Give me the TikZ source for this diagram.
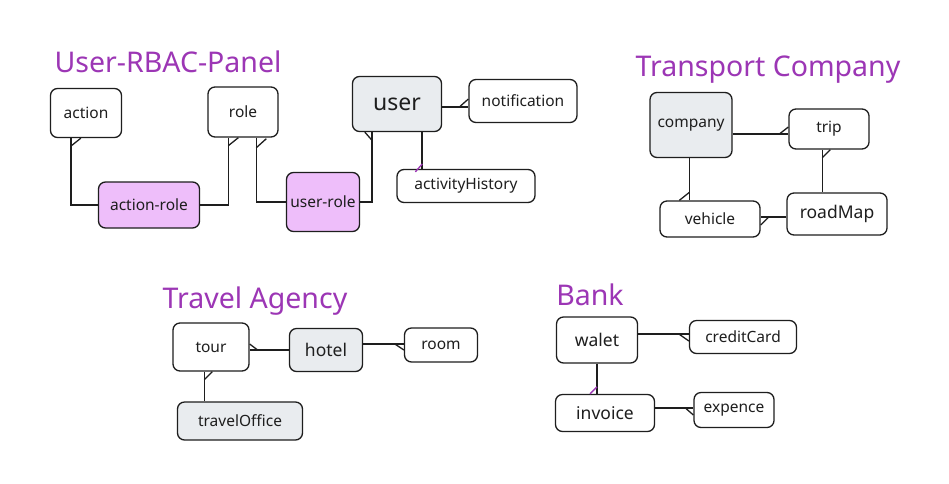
\documentclass[tikz,border=0pt]{standalone}
\usepackage{fontspec}
\setmainfont{Noto Sans}
\usetikzlibrary{calc}
\definecolor{ink}{HTML}{1E1E1E}
\definecolor{ttl}{HTML}{9C36B5}
\definecolor{pinkf}{HTML}{EEBEFA}
\definecolor{grayf}{HTML}{E9ECEF}
\begin{document}
\begin{tikzpicture}[x=1pt,y=-1pt,
  ent/.style={draw=ink, line width=1.3pt, rounded corners=7pt, inner sep=0pt, text=ink, font=\fontsize{15.5}{18}\selectfont},
  big/.style={font=\fontsize{17.5}{20}\selectfont},
  pinkbox/.style={fill=pinkf},
  graybox/.style={fill=grayf},
  ttlstyle/.style={text=ttl, inner sep=0pt, font=\fontsize{28.5}{32}\selectfont},
  link/.style={draw=ink, line width=1.3pt},
  tickln/.style={draw=ink, line width=1.3pt},
  pticks/.style={draw=ttl, line width=1.3pt}
]
\useasboundingbox[fill=white] (0,0) rectangle (949,483);

% titles
\node[ttlstyle] (t1) at (168,62) {User-RBAC-Panel};
\node[ttlstyle] (t2) at (768,70) {Transport Company};
\node[ttlstyle] (t3) at (255,301) {Travel Agency};
\node[ttlstyle] (t4) at (590,295) {Bank};

% User-RBAC-Panel
\node[ent, minimum width=71pt, minimum height=49pt] (action) at (86,113) {action};
\node[ent, minimum width=70pt, minimum height=50pt] (role) at (243,112) {role};
\node[ent, pinkbox, minimum width=101pt, minimum height=46pt] (actionrole) at (149,205) {action-role};
\node[ent, pinkbox, minimum width=73pt, minimum height=59pt] (userrole) at (323,202) {user-role};
\node[ent, graybox, minimum width=89pt, minimum height=55pt, font=\fontsize{23}{26}\selectfont] (user) at (397,104) {user};
\node[ent, minimum width=108pt, minimum height=43pt] (notification) at (523,101) {notification};
\node[ent, minimum width=138pt, minimum height=33pt] (activity) at (466,186) {activityHistory};

% Transport Company
\node[ent, graybox, minimum width=82pt, minimum height=65pt] (company) at (691,125) {company};
\node[ent, minimum width=80pt, minimum height=40pt] (trip) at (829,129) {trip};
\node[ent, minimum width=100pt, minimum height=36pt] (vehicle) at (710,219) {vehicle};
\node[ent, big, minimum width=100pt, minimum height=42pt] (roadMap) at (837,214) {roadMap};

% Travel Agency
\node[ent, minimum width=76pt, minimum height=48pt] (tour) at (211,347) {tour};
\node[ent, graybox, big, minimum width=73pt, minimum height=43pt] (hotel) at (326,350) {hotel};
\node[ent, minimum width=73pt, minimum height=34pt] (room) at (441,345) {room};
\node[ent, graybox, minimum width=125pt, minimum height=38pt] (travelOffice) at (240,421) {travelOffice};

% Bank
\node[ent, big, minimum width=81pt, minimum height=46pt] (walet) at (597,340) {walet};
\node[ent, minimum width=107pt, minimum height=33pt] (creditCard) at (743,337) {creditCard};
\node[ent, big, minimum width=99pt, minimum height=37pt] (invoice) at (605,413) {invoice};
\node[ent, minimum width=80pt, minimum height=35pt] (expence) at (734,410) {expence};

% --- connectors User-RBAC-Panel
\draw[link] ($(action.south west)+(21,0)$) |- (actionrole.west);
\draw[tickln] ($(action.south west)+(21,8)$) -- ++(10,-8);
\draw[link] (actionrole.east) -| ($(role.south west)+(21,0)$);
\draw[tickln] ($(role.south west)+(21,8)$) -- ++(10,-8);
\draw[link] ($(role.south west)+(49,0)$) |- (userrole.west);
\draw[tickln] ($(role.south west)+(49,10)$) -- ++(10,-9);
\draw[link] (userrole.east) -| ($(user.south west)+(20,0)$);
\draw[tickln] ($(user.south west)+(13,0)$) -- ++(7,8);
\draw[link] ($(user.east)+(0,3)$) -- ($(notification.west)+(0,6)$);
\draw[tickln] ($(notification.west)+(-9,6)$) -- ++(9,-8);
\draw[link] ($(user.south west)+(70,0)$) coordinate (u1) -- (u1 |- activity.north);
\draw[pticks] ($(activity.north west)+(19,3)$) -- ++(7,-8);

% --- connectors Transport Company
\draw[link] ($(company.east)+(0,9)$) coordinate (c1) -- (c1 -| trip.west);
\draw[tickln] ($(trip.west)+(-9,5)$) -- ($(trip.west)+(0,-2)$);
\draw[link] ($(trip.south west)+(34,0)$) coordinate (c2) -- (c2 |- roadMap.north);
\draw[tickln] ($(trip.south west)+(34,8)$) -- ++(8,-8);
\draw[link] ($(company.south west)+(40,0)$) coordinate (c3) -- (c3 |- vehicle.north);
\draw[tickln] ($(vehicle.north west)+(20,0)$) -- ++(10,-8);
\draw[link] ($(roadMap.west)+(0,3)$) coordinate (c4) -- (c4 -| vehicle.east);
\draw[tickln] ($(vehicle.east)+(0,6)$) -- ++(8,-8);

% --- connectors Travel Agency
\draw[link] (hotel.west) -- (hotel.west -| tour.east);
\draw[tickln] ($(tour.east)+(0,-3)$) -- ++(8,6);
\draw[link] ($(hotel.east)+(0,-6)$) coordinate (c5) -- (c5 -| room.west);
\draw[tickln] ($(room.west)+(-9,-1)$) -- ++(9,6);
\draw[link] ($(tour.south west)+(32,0)$) coordinate (c6) -- (c6 |- travelOffice.north);
\draw[tickln] ($(tour.south west)+(32,8)$) -- ++(8,-8);

% --- connectors Bank
\draw[link] ($(walet.east)+(0,-6)$) -- ($(creditCard.west)+(0,-3)$);
\draw[tickln] ($(creditCard.west)+(-10,-3)$) -- ++(10,7);
\draw[link] (walet.south) -- (walet.south |- invoice.north);
\draw[pticks] ($(invoice.north)+(-15,0)$) -- ++(7,-7);
\draw[link] ($(invoice.east)+(0,-5)$) coordinate (c7) -- (c7 -| expence.west);
\draw[tickln] ($(expence.west)+(-8,-2)$) -- ++(8,7);
\end{tikzpicture}
\end{document}
